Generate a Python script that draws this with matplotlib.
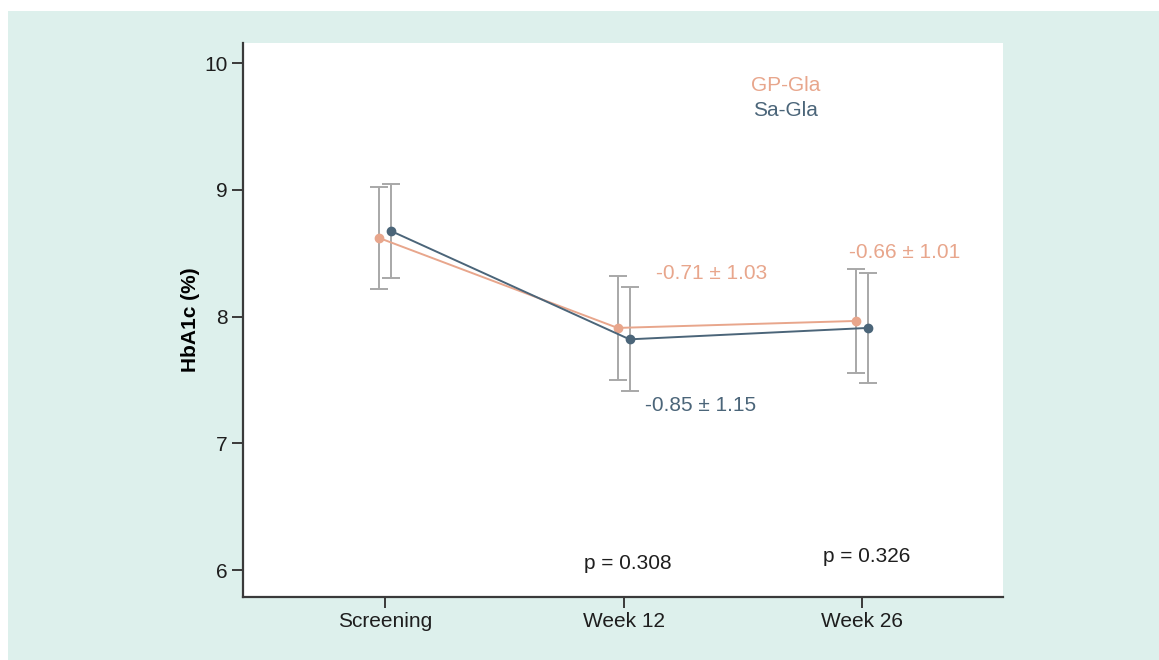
import matplotlib.pyplot as plt
from matplotlib.patches import Rectangle

plt.rcParams['font.family'] = ['Liberation Sans', 'DejaVu Sans']

visits = ['Screening', 'Week 12', 'Week 26']

# HbA1c mean and SD per visit
gp_mean = [8.62, 7.91, 7.965]
gp_sd = [0.40, 0.41, 0.41]
sa_mean = [8.675, 7.82, 7.91]
sa_sd = [0.37, 0.41, 0.435]

gp_change = '-0.71 ± 1.03', '-0.66 ± 1.01'
sa_change = '-0.85 ± 1.15'
p_values = ['p = 0.308', 'p = 0.326']

gp_color = '#e8a68c'
sa_color = '#4b6579'
err_color = '#a8a8a8'
bg_color = '#ddf0ec'
axis_color = '#3a3a3a'
fs = 15

fig = plt.figure(figsize=(11.59, 6.6), dpi=100)
fig.patches.append(Rectangle((8 / 1159, 0), 1 - 8 / 1159, 1 - 11 / 660,
                             transform=fig.transFigure, facecolor=bg_color,
                             edgecolor='none', zorder=-10))
ax = fig.add_axes([243 / 1159, 63 / 660, 760 / 1159, 554 / 660])
ax.set_facecolor('white')

x = list(range(len(visits)))
gp_x = [v - 0.025 for v in x]
sa_x = [v + 0.025 for v in x]

ax.errorbar(gp_x, gp_mean, yerr=gp_sd, fmt='none', ecolor=err_color,
            elinewidth=1.4, capsize=6.5, capthick=1.4, zorder=2)
ax.errorbar(sa_x, sa_mean, yerr=sa_sd, fmt='none', ecolor=err_color,
            elinewidth=1.4, capsize=6.5, capthick=1.4, zorder=2)
ax.plot(gp_x, gp_mean, color=gp_color, lw=1.4, marker='o', ms=6, zorder=3)
ax.plot(sa_x, sa_mean, color=sa_color, lw=1.4, marker='o', ms=6, zorder=4)

ax.set_xlim(-0.595, 2.59)
ax.set_ylim(5.787, 10.158)
ax.set_xticks(x)
ax.set_xticklabels(visits)
ax.set_yticks([6, 7, 8, 9, 10])

for side in ['top', 'right']:
    ax.spines[side].set_visible(False)
for side in ['left', 'bottom']:
    ax.spines[side].set_color(axis_color)
    ax.spines[side].set_linewidth(1.6)
ax.tick_params(axis='both', colors=axis_color, length=8, width=1.4,
               labelsize=fs, labelcolor='#1e1e1e', pad=3)

ax.set_ylabel('HbA1c (%)', fontsize=15, fontweight='bold', labelpad=3)

# legend as coloured text
ax.text(1.68, 9.826, 'GP-Gla', color=gp_color, fontsize=fs, ha='center', va='center')
ax.text(1.68, 9.629, 'Sa-Gla', color=sa_color, fontsize=fs, ha='center', va='center')

# change from baseline
ax.text(1.371, 8.343, gp_change[0], color=gp_color, fontsize=fs, ha='center', va='center')
ax.text(2.176, 8.509, gp_change[1], color=gp_color, fontsize=fs, ha='center', va='center')
ax.text(1.321, 7.294, sa_change, color=sa_color, fontsize=fs, ha='center', va='center')

ax.text(1.019, 6.055, p_values[0], color='#1e1e1e', fontsize=fs, ha='center', va='center')
ax.text(2.017, 6.103, p_values[1], color='#1e1e1e', fontsize=fs, ha='center', va='center')

fig.savefig('out.png', dpi=100, facecolor='white')
